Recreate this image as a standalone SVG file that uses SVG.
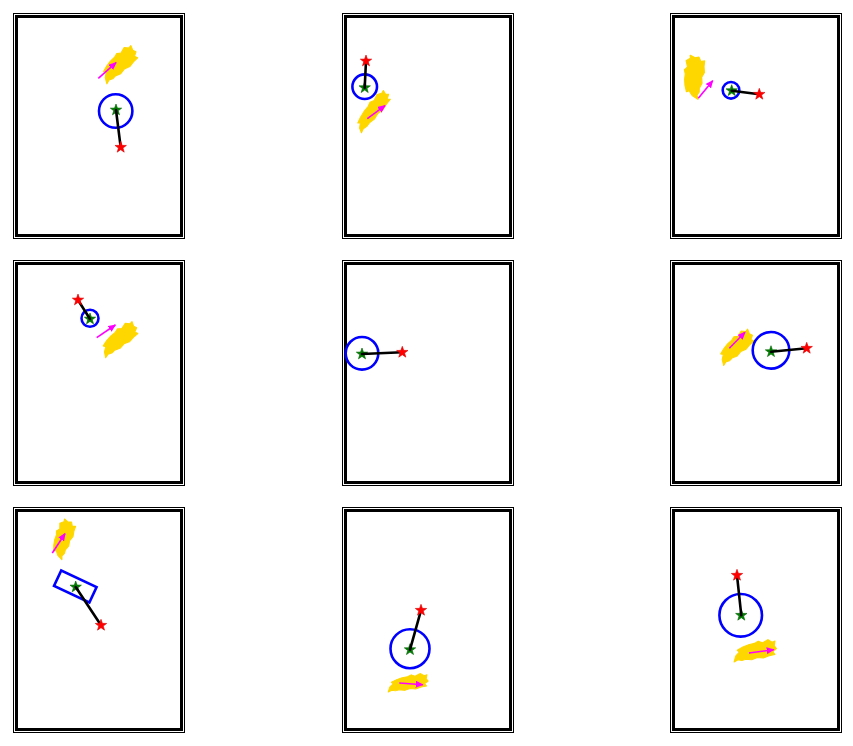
<svg xmlns="http://www.w3.org/2000/svg" xmlns:xlink="http://www.w3.org/1999/xlink" width="853" height="746" viewBox="0 0 853 746">
<style>
.thin{fill:none;stroke:#000;stroke-width:1}
.thick{fill:none;stroke:#000;stroke-width:3}
.blob{fill:#FFD700;stroke:#FFD700;stroke-width:1.2;stroke-linejoin:round}
.arr{stroke:#FF00FF;stroke-width:1.6;fill:none}
.ring{fill:none;stroke:#0000FF;stroke-width:2.6}
.link{stroke:#000;stroke-width:2.6;stroke-linecap:round}
.gs{fill:#008000;stroke:#006400;stroke-width:0.6}
.rs{fill:#FF0000;stroke:#E00000;stroke-width:0.6}
</style>
<defs>
<marker id="ah" markerUnits="userSpaceOnUse" markerWidth="8" markerHeight="7" refX="7" refY="3.5" orient="auto">
<path d="M0,0 L8,3.5 L0,7 Z" fill="#FF00FF"/>
</marker>
<path id="star" d="M0,-6 L1.41,-1.94 L5.71,-1.85 L2.28,0.74 L3.53,4.85 L0,2.4 L-3.53,4.85 L-2.28,0.74 L-5.71,-1.85 L-1.41,-1.94 Z"/>
<path id="blob" d="M-20,4 L-16,0 L-18,-2 L-12,-5 L-6,-7 L0,-8 L4,-10 L8,-8 L14,-11 L18,-8 L21,-9 L20,-4 L22,-1 L18,2 L20,5 L14,6 L8,8 L2,7 L-4,9 L-10,8 L-14,9 L-18,8 L-22,10 Z"/>
<g id="frame">
<rect class="thin" x="0" y="0" width="171" height="225"/>
<rect class="thick" x="3" y="3" width="165" height="219"/>
</g>
</defs>
<rect width="853" height="746" fill="#fff"/>

<g id="panel1">
<use xlink:href="#frame" transform="translate(13.5,13.5)"/>
<use xlink:href="#blob" class="blob" transform="translate(119,64) rotate(-33) scale(0.95,1.0)"/>
<line class="arr" x1="98.3" y1="78.3" x2="116" y2="62.7" marker-end="url(#ah)"/>
<circle class="ring" cx="115.7" cy="111" r="16.7"/>
<use xlink:href="#star" class="gs" x="116" y="110"/>
<line class="link" x1="116" y1="110" x2="120.7" y2="147.3"/>
<use xlink:href="#star" class="rs" x="120.7" y="147.3"/>
</g>

<g id="panel2">
<use xlink:href="#frame" transform="translate(342.5,13.5)"/>
<use xlink:href="#blob" class="blob" transform="translate(372.5,111) rotate(-44) scale(1.05,0.8)"/>
<line class="arr" x1="367.3" y1="118.7" x2="385" y2="105.7" marker-end="url(#ah)"/>
<circle class="ring" cx="364.7" cy="86.7" r="12.3"/>
<use xlink:href="#star" class="gs" x="364.7" y="87.7"/>
<line class="link" x1="364.7" y1="87.7" x2="366" y2="61"/>
<use xlink:href="#star" class="rs" x="366" y="61"/>
</g>

<g id="panel3">
<use xlink:href="#frame" transform="translate(670.5,13.5)"/>
<use xlink:href="#blob" class="blob" transform="translate(693.7,76.7) rotate(-72) scale(0.92,1.1)"/>
<line class="arr" x1="698.3" y1="98.3" x2="712.7" y2="80.7" marker-end="url(#ah)"/>
<circle class="ring" cx="731" cy="90.3" r="8.3"/>
<use xlink:href="#star" class="gs" x="731.7" y="90.7"/>
<line class="link" x1="731.7" y1="90.7" x2="759.3" y2="94.3"/>
<use xlink:href="#star" class="rs" x="759.3" y="94.3"/>
</g>

<g id="panel4">
<use xlink:href="#frame" transform="translate(13.5,260.5)"/>
<use xlink:href="#blob" class="blob" transform="translate(119,339) rotate(-30) scale(0.95,0.95)"/>
<line class="arr" x1="96.7" y1="337.7" x2="115.3" y2="325" marker-end="url(#ah)"/>
<circle class="ring" cx="90" cy="318.3" r="8.5"/>
<use xlink:href="#star" class="gs" x="90" y="319"/>
<line class="link" x1="90" y1="319" x2="78" y2="300"/>
<use xlink:href="#star" class="rs" x="78" y="300"/>
</g>

<g id="panel5">
<use xlink:href="#frame" transform="translate(342.5,260.5)"/>
<circle class="ring" cx="362" cy="353.3" r="16.3"/>
<use xlink:href="#star" class="gs" x="362" y="354"/>
<line class="link" x1="362" y1="354" x2="402.3" y2="352.3"/>
<use xlink:href="#star" class="rs" x="402.3" y="352.3"/>
</g>

<g id="panel6">
<use xlink:href="#frame" transform="translate(670.5,260.5)"/>
<use xlink:href="#blob" class="blob" transform="translate(735.8,346.7) rotate(-32) scale(0.92,0.95)"/>
<line class="arr" x1="729.3" y1="348.3" x2="745" y2="332.3" marker-end="url(#ah)"/>
<circle class="ring" cx="771" cy="350.3" r="18.3"/>
<use xlink:href="#star" class="gs" x="771" y="351.7"/>
<line class="link" x1="771" y1="351.7" x2="806.7" y2="348.3"/>
<use xlink:href="#star" class="rs" x="806.7" y="348.3"/>
</g>

<g id="panel7">
<use xlink:href="#frame" transform="translate(13.5,507.5)"/>
<use xlink:href="#blob" class="blob" transform="translate(63,538.7) rotate(-60) scale(0.85,0.95)"/>
<line class="arr" x1="52.3" y1="553" x2="65" y2="533.7" marker-end="url(#ah)"/>
<rect class="ring" x="-19.5" y="-8.5" width="39" height="17" transform="translate(75.3,586.5) rotate(25)"/>
<use xlink:href="#star" class="gs" x="75.7" y="587"/>
<line class="link" x1="75.7" y1="587" x2="101" y2="625.3"/>
<use xlink:href="#star" class="rs" x="101" y="625.3"/>
</g>

<g id="panel8">
<use xlink:href="#frame" transform="translate(342.5,507.5)"/>
<circle class="ring" cx="410" cy="648.7" r="19.5"/>
<use xlink:href="#star" class="gs" x="410" y="649.7"/>
<line class="link" x1="410" y1="649.7" x2="421" y2="610.3"/>
<use xlink:href="#star" class="rs" x="421" y="610.3"/>
<use xlink:href="#blob" class="blob" transform="translate(408,683) rotate(-3) scale(0.92,0.8)"/>
<line class="arr" x1="399.3" y1="683" x2="422.7" y2="684.7" marker-end="url(#ah)"/>
</g>

<g id="panel9">
<use xlink:href="#frame" transform="translate(670.5,507.5)"/>
<circle class="ring" cx="740.7" cy="615.3" r="21.3"/>
<use xlink:href="#star" class="gs" x="741.3" y="615.3"/>
<line class="link" x1="741.3" y1="615.3" x2="737" y2="575.3"/>
<use xlink:href="#star" class="rs" x="737" y="575.3"/>
<use xlink:href="#blob" class="blob" transform="translate(755,651) rotate(-4) scale(0.98,0.95)"/>
<line class="arr" x1="749" y1="653" x2="773.7" y2="649.7" marker-end="url(#ah)"/>
</g>
</svg>
